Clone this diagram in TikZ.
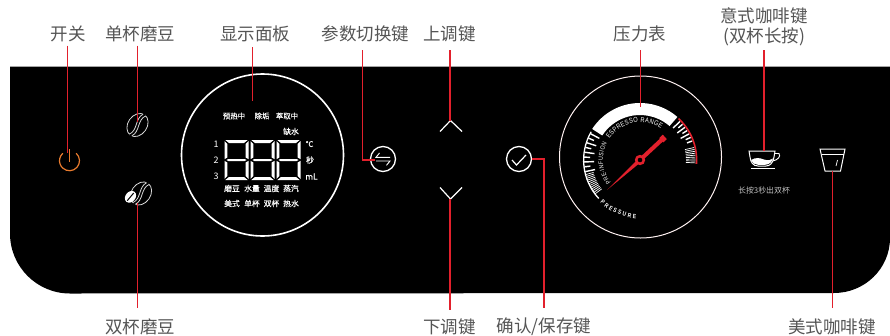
\documentclass[tikz,border=0pt]{standalone}
\usepackage{fontspec}
\setmainfont{Noto Sans CJK SC}
\newfontfamily\gaugefont[FakeStretch=0.82]{Liberation Sans}
\newfontfamily\dispfont[FakeBold=0.35]{Noto Sans CJK SC}
\usetikzlibrary{decorations.text}
\definecolor{redline}{HTML}{E2202C}
\definecolor{labelgray}{HTML}{555555}
\definecolor{powerorange}{HTML}{E97B2E}
\tikzset{
  lab/.style={text=labelgray,font=\fontsize{17.5}{20}\selectfont,inner sep=0pt,align=center},
  disp/.style={text=white,font=\dispfont\fontsize{7.8}{8}\selectfont,inner sep=0pt},
  disptop/.style={text=white,font=\dispfont\fontsize{7.4}{8}\selectfont,inner sep=0pt},
  dispnum/.style={text=white,font=\fontsize{9}{10}\selectfont,inner sep=0pt},
  lead/.style={draw=redline,line width=1.4pt},
  ring/.style={circle,draw=white,line width=1.3pt,inner sep=0pt,minimum size=25pt},
  bigring/.style={circle,inner sep=0pt,minimum size=162pt},
  icon/.style={draw=white,line width=1pt},
  beanline/.style={draw=white!85!black,line width=.8pt},
  tickmark/.style={draw=white,line width=1.4pt},
  tickfine/.style={draw=white,line width=.7pt},
}
\newcommand{\beanicon}[2]{%
  \begin{scope}[shift={(#1,#2)},rotate=-35]
    \draw[beanline] (0,0) ellipse (9.6pt and 12.4pt);
    \draw[draw=black,line width=3pt] (0,-13) .. controls (-5,-4) and (5,4) .. (0,13);
    \draw[beanline] (-1.6,-12) .. controls (-6,-4) and (3.4,4) .. (-1.4,12.2);
    \draw[beanline] (1.5,-12.2) .. controls (-3.4,-4) and (6,4) .. (1.6,12);
  \end{scope}}
\newcommand{\segdigit}[1]{%
  \begin{scope}[shift={(#1,0)}]
    \fill[white] (0.8,140) -- (23.2,140) -- (19.5,143) -- (4.5,143) -- cycle;
    \fill[white] (0.8,180) -- (23.2,180) -- (19.5,177) -- (4.5,177) -- cycle;
    \fill[white] (0,141) -- (2.8,144) -- (2.8,157.5) -- (0,159.2) -- cycle;
    \fill[white] (24,141) -- (21.2,144) -- (21.2,157.5) -- (24,159.2) -- cycle;
    \fill[white] (0,179) -- (2.8,176) -- (2.8,162.5) -- (0,160.8) -- cycle;
    \fill[white] (24,179) -- (21.2,176) -- (21.2,162.5) -- (24,160.8) -- cycle;
    \fill[white] (2,160) -- (3.8,159) -- (20.2,159) -- (22,160) -- (20.2,161) -- (3.8,161) -- cycle;
  \end{scope}}
\begin{document}
\begin{tikzpicture}[x=1pt,y=-1pt]
\useasboundingbox (0,0) rectangle (890,335);
\fill[white] (0,0) rectangle (890,335);
% panel
\fill[black] (10,66.5) -- (890,66.5) -- (890,238) arc[start angle=0,end angle=90,x radius=56pt,y radius=-55pt] -- (70,293.5) arc[start angle=90,end angle=180,x radius=60pt,y radius=-60pt] -- cycle;

% labels
\node[lab] (lOn) at (68,34) {开关};
\node[lab] (lSingle) at (140,34) {单杯磨豆};
\node[lab] (lDisp) at (255,34) {显示面板};
\node[lab] (lParam) at (365.5,34) {参数切换键};
\node[lab] (lUp) at (449.5,34) {上调键};
\node[lab] (lGauge) at (640,34) {压力表};
\node[lab,font=\fontsize{17.5}{19.5}\selectfont] (lEsp) at (764,27) {意式咖啡键\\(双杯长按)};
\node[lab] (lDouble) at (140,327) {双杯磨豆};
\node[lab] (lDown) at (449.5,327) {下调键};
\node[lab] (lOk) at (544,327) {确认/保存键};
\node[lab] (lAm) at (832,327) {美式咖啡键};

% power
\begin{scope}[shift={(69.5,160.7)},y=1pt]
  \draw[powerorange,line width=1.2pt] (48:10pt) arc[start angle=48,end angle=-228,radius=10pt];
  \draw[powerorange,line width=1.2pt] (0,11.5) -- (0,-1);
\end{scope}

% beans
\beanicon{137.5}{125}
\beanicon{141}{193.5}
\begin{scope}[shift={(130.5,196.8)},rotate=50]
  \fill[white] (0,0) ellipse (6.4pt and 5pt);
  \draw[black,line width=1pt] (-5,0) -- (5,0);
\end{scope}

% display
\node[bigring,draw=white,line width=1.6pt] (display) at (262.5,155) {};
\node[disptop] (d1) at (234,116) {预热中};
\node[disptop] (d2) at (262,116) {除垢};
\node[disptop] (d3) at (287,116) {萃取中};
\node[disp] (d4) at (291,131.5) {缺水};
\node[dispnum] (n1) at (216,144) {1};
\node[dispnum] (n2) at (216,160) {2};
\node[dispnum] (n3) at (216,176) {3};
\node[disp] (u1) at (309.5,144) {℃};
\node[disp] (u2) at (310,160) {秒};
\node[disp,font=\dispfont\fontsize{8.4}{9}\selectfont] (u3) at (311.5,176.5) {mL};
\node[disp] (w1) at (232,188.5) {磨豆};
\node[disp] (w2) at (252,188.5) {水量};
\node[disp] (w3) at (271.5,188.5) {温度};
\node[disp] (w4) at (291,188.5) {蒸汽};
\node[disp] (w5) at (232,203.5) {美式};
\node[disp] (w6) at (252,203.5) {单杯};
\node[disp] (w7) at (271.5,203.5) {双杯};
\node[disp] (w8) at (291,203.5) {热水};
\segdigit{224.5}
\segdigit{250.5}
\segdigit{276.5}

% param button
\node[ring] (param) at (383,159) {};
\draw[draw=white,line width=.9pt] (390,157.3) -- (376,157.3) -- (379.5,153);
\draw[draw=white,line width=.9pt] (376,161) -- (390,161) -- (386.5,165.3);

% chevrons
\coordinate (upTip) at (450.5,120.5);
\coordinate (downTip) at (450.5,199);
\draw[icon,line width=1.2pt] (440,131.5) -- (upTip) -- (462,131.5);
\draw[icon,line width=1.2pt] (440,187.5) -- (downTip) -- (462,187.5);

% ok button
\node[ring] (ok) at (519,159) {};
\draw[icon,line width=1.2pt] (512,160) -- (516.5,165) -- (526,155);

% gauge
\node[bigring,draw=white!80!pink,line width=1pt] (gauge) at (640.5,157) {};
\begin{scope}[shift={(640,160)},y=1pt]
  \fill[white] (147:57pt) arc[start angle=147,end angle=49,radius=57pt] -- (49:45pt) arc[start angle=49,end angle=147,radius=45pt] -- cycle;
  \draw[white,line width=1.3pt] (150:56.4pt) arc[start angle=150,end angle=223,radius=56.4pt];
  \foreach \a in {152,162,172,182,192}{\draw[tickmark] (\a:56pt) -- (\a:46pt);}
  \foreach \a in {157,167,177,187}{\draw[tickmark] (\a:56pt) -- (\a:50pt);}
  \foreach \a in {195,197,...,217}{\draw[tickfine] (\a:56pt) -- (\a:48pt);}
  \draw[redline,line width=1.6pt] (47:56.6pt) arc[start angle=47,end angle=-4,radius=56.6pt];
  \foreach \a in {44,36,28}{\draw[tickmark] (\a:55.5pt) -- (\a:46pt);}
  \foreach \a in {40,32,24,20}{\draw[tickmark] (\a:55.5pt) -- (\a:50pt);}
  \foreach \a in {13,11,...,-3}{\draw[tickfine] (\a:55.5pt) -- (\a:46pt);}
  \path[decorate,decoration={text along path,text align={fit to path},text={|\color{white}\fontsize{7}{8}\selectfont\gaugefont|ESPRESSO RANGE}}]
    (145:37.5pt) arc[start angle=145,end angle=56,radius=37.5pt];
  \path[decorate,decoration={text along path,text align={fit to path},text={|\color{white}\fontsize{6.3}{7}\selectfont\gaugefont|PRE-INFUSION}}]
    (218:37pt) arc[start angle=218,end angle=153,radius=37pt];
  \path[decorate,decoration={text along path,text align={fit to path},text={|\color{white}\fontsize{6.2}{7}\selectfont\gaugefont\bfseries|PRESSURE}}]
    (227:58.5pt) arc[start angle=227,end angle=266,radius=58.5pt];
  \fill[redline] (-33,-30) -- (-1.5,1.5) -- (1.5,-1.5) -- cycle;
  \fill[redline] (-1.4,1.4) -- (1.4,-1.4) -- (23.3,18.9) -- (20.5,21.9) -- cycle;
  \fill[redline] (19.2,21.9) -- (23.2,17.5) -- (26.8,20.9) -- (22.8,25.3) -- cycle;
  \fill[redline] (0,0) circle (5.2pt);
  \fill[black] (0,0) circle (2.3pt);
\end{scope}

% cup
\coordinate (cupTop) at (764,151);
\draw[icon] (749,151) -- (775,151) -- (774,157) .. controls (773,163) and (770,166) .. (766,166) -- (758,166) .. controls (753,166) and (750.5,162) .. (750,157) -- cycle;
\draw[icon,line width=.9pt] (774.5,153.5) -- (779,153.5) .. controls (781,156.5) and (778,160) .. (772.5,161);
\fill[white] (751,160) .. controls (756,157) and (760,158) .. (764,159.5) .. controls (768,161) and (771,160) .. (773,158.5) .. controls (772,162) and (769,164.8) .. (765,164.8) -- (758,164.8) .. controls (755,164.8) and (752,163) .. (751,160) -- cycle;
\draw[icon] (751,168.5) -- (775,168.5);
\node[text=white!50!gray,font=\fontsize{7.9}{9}\selectfont,inner sep=0pt] (hold) at (764,190) {长按3秒出双杯};

% glass
\coordinate (glassBot) at (832.5,171);
\draw[icon] (820,149) -- (845,149) -- (840.5,171) -- (825,171) -- cycle;
\draw[icon] (821.5,154) -- (843.5,154);
\draw[icon,line width=.7pt] (837.5,160) -- (836,166);

% connectors
\coordinate (c1) at (67.5,45.5);
\coordinate (c1e) at (67.5,153);
\coordinate (c2) at (137.7,45.5);
\coordinate (c2e) at (137.7,122);
\coordinate (c3) at (252.5,47);
\coordinate (c3e) at (252.5,101);
\coordinate (c4) at (362.7,50);
\coordinate (c4e) at (375,160);
\coordinate (c5) at (450,50);
\coordinate (c6) at (640.7,50);
\coordinate (c6e) at (640.7,107);
\coordinate (c7) at (764,50);
\coordinate (c8) at (137.7,203);
\coordinate (c8e) at (137.7,308);
\coordinate (c9) at (450,310);
\coordinate (c10) at (544,308);
\coordinate (c11) at (832.5,308);
\draw[lead] (c1) -- (c1e);
\draw[lead] (c2) -- (c2e);
\draw[lead] (c3) -- (c3e);
\draw[lead] (c4) |- (c4e);
\draw[lead] (c5) -- (upTip -| c5);
\draw[lead] (c6) -- (c6e);
\draw[lead] (c7) -- (cupTop);
\draw[lead] (c8) -- (c8e);
\draw[lead] (downTip -| c9) -- (c9);
\draw[lead] (ok.east) -| (c10);
\draw[lead] (glassBot) -- (c11);
\end{tikzpicture}
\end{document}
